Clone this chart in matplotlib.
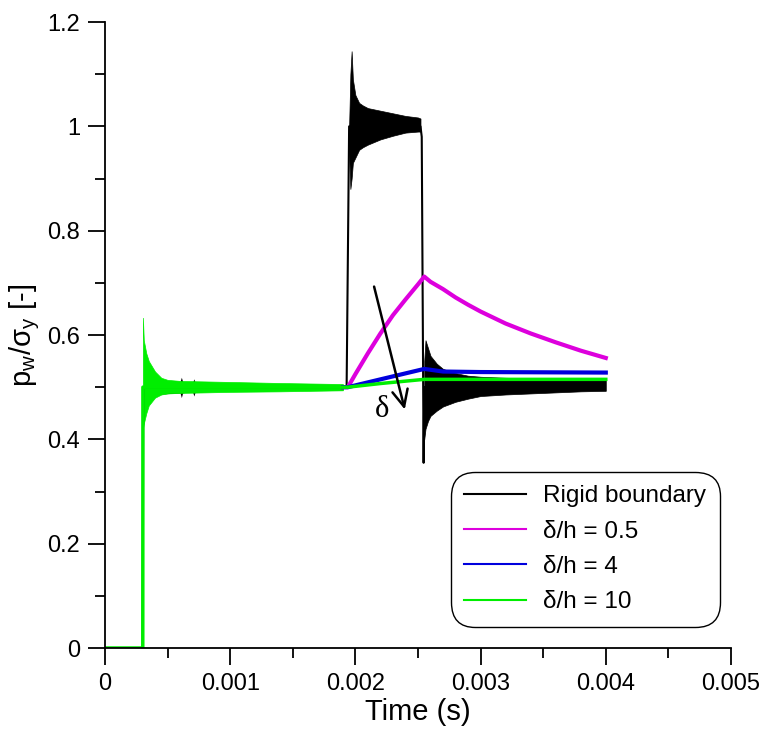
import numpy as np
import matplotlib
matplotlib.use("Agg")
import matplotlib.pyplot as plt
from matplotlib.lines import Line2D
from matplotlib.ticker import MultipleLocator

plt.rcParams['font.family'] = ['Liberation Sans', 'DejaVu Sans']
plt.rcParams['mathtext.fontset'] = 'custom'
plt.rcParams['mathtext.rm'] = 'Liberation Sans'
plt.rcParams['mathtext.it'] = 'Liberation Sans'

# Rigid boundary: main trace (jumps) and oscillation envelopes
rigid_t = [0.0, 0.000302, 0.000305, 0.0019, 0.00193, 0.00195, 0.00252, 0.00253, 0.002545, 0.00255]
rigid_p = [0.0, 0.0, 0.5, 0.5, 0.5, 1.0, 1.0, 0.98, 0.355, 0.5]

rigid_early_t = [0.00045, 0.0006, 0.00061, 0.00062, 0.00064, 0.0007, 0.00071, 0.00072, 0.0009, 0.0012, 0.0019]
rigid_early_hi = [0.513, 0.511, 0.519, 0.511, 0.510, 0.509, 0.516, 0.509, 0.508, 0.507, 0.505]
rigid_early_lo = [0.487, 0.489, 0.480, 0.489, 0.490, 0.491, 0.483, 0.491, 0.492, 0.493, 0.495]

rigid_plat_t = [0.00195, 0.00196, 0.00197, 0.00198, 0.002, 0.00203, 0.00206, 0.0021,
                0.0022, 0.0023, 0.0024, 0.0025, 0.00252]
rigid_plat_hi = [1.0, 1.10, 1.144, 1.09, 1.06, 1.045, 1.04, 1.035, 1.03, 1.025, 1.02, 1.017, 1.015]
rigid_plat_lo = [0.95, 0.88, 0.90, 0.93, 0.94, 0.955, 0.96, 0.965, 0.975, 0.982, 0.988, 0.99, 0.99]

rigid_post_t = [0.00255, 0.00256, 0.00258, 0.0026, 0.00265, 0.0027, 0.0028, 0.0029,
                0.003, 0.0032, 0.0034, 0.0036, 0.0038, 0.004]
rigid_post_hi = [0.55, 0.59, 0.575, 0.56, 0.545, 0.535, 0.527, 0.522, 0.52, 0.518, 0.517, 0.515, 0.514, 0.513]
rigid_post_lo = [0.40, 0.42, 0.435, 0.445, 0.455, 0.463, 0.472, 0.478, 0.483, 0.486, 0.488, 0.49, 0.492, 0.493]

# delta/h = 0.5
mag_t = [0.0019, 0.00194, 0.002, 0.0021, 0.0022, 0.0023, 0.0024, 0.0025, 0.00255,
         0.0026, 0.0027, 0.0028, 0.0029, 0.003, 0.0032, 0.0034, 0.0036, 0.0038, 0.004]
mag_p = [0.5, 0.5, 0.525, 0.565, 0.603, 0.638, 0.668, 0.697, 0.712,
         0.702, 0.688, 0.672, 0.658, 0.645, 0.622, 0.603, 0.586, 0.570, 0.556]

# delta/h = 4
blue_t = [0.0019, 0.00194, 0.0022, 0.00255, 0.0027, 0.003, 0.004]
blue_p = [0.5, 0.5, 0.515, 0.535, 0.530, 0.529, 0.528]

# delta/h = 10
green_t = [0.0, 0.000302, 0.000303, 0.0019, 0.00194, 0.0022, 0.00255, 0.003, 0.004]
green_p = [0.0, 0.0, 0.5, 0.5, 0.5, 0.507, 0.515, 0.515, 0.515]
green_osc_t = [0.000303, 0.00031, 0.00033, 0.00035, 0.0004, 0.00045, 0.0005,
               0.0006, 0.0008, 0.001, 0.0014, 0.0019]
green_osc_hi = [0.633, 0.59, 0.565, 0.55, 0.53, 0.518, 0.514, 0.512, 0.511, 0.510, 0.508, 0.506]
green_osc_lo = [0.42, 0.43, 0.45, 0.465, 0.48, 0.486, 0.488, 0.489, 0.490, 0.491, 0.492, 0.494]

c_rigid, c_mag, c_blue, c_green = 'black', '#dd00dd', '#0000dd', '#00ee00'

fig = plt.figure(figsize=(7.64, 7.29), dpi=100)
ax = fig.add_axes([0.1374, 0.1111, 0.8194, 0.8587])

ax.plot(rigid_t, rigid_p, color=c_rigid, lw=1.5)
ax.fill_between(rigid_early_t, rigid_early_lo, rigid_early_hi, color=c_rigid, lw=0)
ax.fill_between(rigid_plat_t, rigid_plat_lo, rigid_plat_hi, color=c_rigid, lw=0.5)
ax.fill_between(rigid_post_t, rigid_post_lo, rigid_post_hi, color=c_rigid, lw=0.5)

ax.plot(mag_t, mag_p, color=c_mag, lw=3)
ax.plot(blue_t, blue_p, color=c_blue, lw=3)
ax.plot(green_t, green_p, color=c_green, lw=2.5)
ax.fill_between(green_osc_t, green_osc_lo, green_osc_hi, color=c_green, lw=0.5)

# arrow showing increasing delta
ax.annotate('', xy=(0.0024, 0.452), xytext=(0.002144, 0.698),
            arrowprops=dict(arrowstyle='->,head_length=0.6,head_width=0.28', color='black',
                            lw=1.8, mutation_scale=20))
ax.text(0.00221, 0.458, 'δ', family='Liberation Serif', fontsize=22, ha='center', va='center')

ax.set_xlim(0, 0.005)
ax.set_ylim(0, 1.2)
ax.xaxis.set_major_locator(MultipleLocator(0.001))
ax.xaxis.set_minor_locator(MultipleLocator(0.0005))
ax.yaxis.set_major_locator(MultipleLocator(0.2))
ax.yaxis.set_minor_locator(MultipleLocator(0.1))
ax.xaxis.set_major_formatter(plt.FuncFormatter(lambda v, _: '{:g}'.format(round(v, 4))))
ax.yaxis.set_major_formatter(plt.FuncFormatter(lambda v, _: '{:g}'.format(round(v, 2))))
ax.tick_params(which='major', direction='out', length=12, width=1.3, labelsize=17, pad=6)
ax.tick_params(which='minor', direction='out', length=7, width=1.3)
ax.spines['top'].set_visible(False)
ax.spines['right'].set_visible(False)
for s in ('left', 'bottom'):
    ax.spines[s].set_linewidth(1.3)

ax.set_xlabel('Time (s)', fontsize=21, labelpad=2)
ax.set_ylabel(r'p$_\mathregular{w}$/σ$_\mathregular{y}$ [-]', fontsize=21, labelpad=4)

handles = [Line2D([], [], color=c, lw=1.5) for c in (c_rigid, c_mag, c_blue, c_green)]
labels = ['Rigid boundary', 'δ/h = 0.5', 'δ/h = 4', 'δ/h = 10']
leg = ax.legend(handles, labels, loc='lower right', bbox_to_anchor=(0.982, 0.034),
                fontsize=17.5, handlelength=2.55, handletextpad=0.7, labelspacing=0.55,
                borderpad=0.55, borderaxespad=0, fancybox=True, framealpha=1)
leg.get_frame().set_edgecolor('black')
leg.get_frame().set_linewidth(1.0)
leg.get_frame().set_boxstyle('round', pad=0, rounding_size=1.0)

fig.savefig('out.png', dpi=100)
